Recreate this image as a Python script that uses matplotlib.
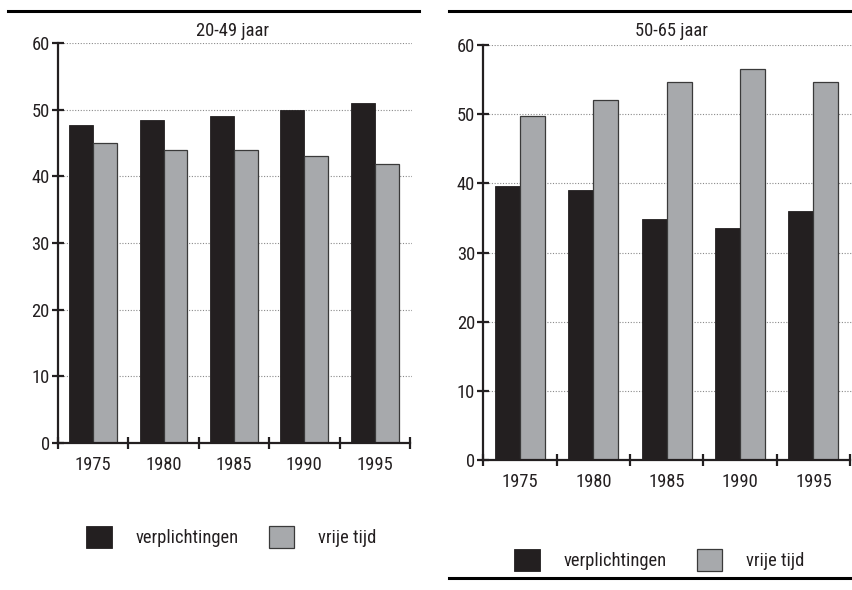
import matplotlib
matplotlib.use('Agg')
import matplotlib.pyplot as plt
import numpy as np
from matplotlib.lines import Line2D
from matplotlib.patches import Patch

plt.rcParams['font.family'] = ['Roboto Condensed', 'Liberation Sans', 'DejaVu Sans']
plt.rcParams['font.size'] = 13.3

years = ['1975', '1980', '1985', '1990', '1995']
legend_labels = ['verplichtingen', 'vrije tijd']

# 20-49 jaar
young_duties = [47.7, 48.5, 49.0, 50.0, 51.0]
young_free = [45.0, 44.0, 44.0, 43.0, 41.8]

# 50-65 jaar
old_duties = [39.6, 39.0, 34.9, 33.5, 36.0]
old_free = [49.8, 52.1, 54.7, 56.6, 54.7]

BLACK = '#231f20'
GREY = '#a7a9ac'
TXT = '#231f20'
FS = 13.3

fig = plt.figure(figsize=(8.53, 5.90), dpi=100)


def draw_panel(rect, duties, free, title, xmax, title_xy, leg_xy):
    ax = fig.add_axes(rect)
    x = np.arange(len(years))
    w = 0.34
    ax.bar(x - w, duties, width=w, align='edge', color=BLACK,
           edgecolor=BLACK, linewidth=0.6, zorder=3)
    ax.bar(x, free, width=w, align='edge', color=GREY,
           edgecolor='#3a3a3a', linewidth=0.9, zorder=3)

    ax.set_xlim(-0.5, xmax)
    ax.set_ylim(0, 60)
    for s in ['top', 'right']:
        ax.spines[s].set_visible(False)
    for s in ['left', 'bottom']:
        ax.spines[s].set_linewidth(1.6)
        ax.spines[s].set_color(BLACK)
        ax.spines[s].set_zorder(4)
    ax.spines['bottom'].set_bounds(-0.5, 4.5)

    ax.set_yticks(np.arange(0, 61, 10))
    ax.tick_params(axis='y', direction='inout', length=8, width=1.6,
                   color=BLACK, labelcolor=TXT, pad=2, labelsize=FS)
    # boundaries between groups get the tick marks, centres get the labels
    ax.set_xticks(np.arange(-0.5, 5, 1.0))
    ax.set_xticklabels([])
    ax.tick_params(axis='x', which='major', direction='inout', length=8,
                   width=1.6, color=BLACK)
    ax.set_xticks(x, minor=True)
    ax.set_xticklabels(years, minor=True)
    ax.tick_params(axis='x', which='minor', length=0, pad=9,
                   labelcolor=TXT, labelsize=FS)

    ax.yaxis.grid(True, linestyle=(0, (1, 1.5)), color='#8a8a8a',
                  linewidth=0.8, zorder=0)
    ax.set_axisbelow(True)

    fig.text(title_xy[0], title_xy[1], title, ha='center', va='center',
             fontsize=FS, color=TXT)

    handles = [Patch(facecolor=BLACK, edgecolor=BLACK, linewidth=0.6),
               Patch(facecolor=GREY, edgecolor='#3a3a3a', linewidth=0.9)]
    fig.legend(handles, legend_labels, loc='center left',
               bbox_to_anchor=leg_xy, bbox_transform=fig.transFigure,
               ncol=2, frameon=False, borderpad=0, borderaxespad=0,
               handlelength=1.4, handleheight=1.4, handletextpad=1.3,
               columnspacing=1.6, fontsize=FS, labelcolor=TXT)
    return ax


draw_panel([58 / 853, 147 / 590, 354 / 853, 400 / 590],
           young_duties, young_free, '20-49 jaar', 4.53,
           (233 / 853, (590 - 31) / 590), (86 / 853, (590 - 537) / 590))
draw_panel([483.3 / 853, 129.7 / 590, 369.7 / 853, 415.3 / 590],
           old_duties, old_free, '50-65 jaar', 4.54,
           (671 / 853, (590 - 31) / 590), (514 / 853, (590 - 560) / 590))

# horizontal rules framing the two panels
for x0, x1, y in [(8, 419, 11), (449, 853, 11), (449, 853, 578)]:
    fig.add_artist(Line2D([x0 / 853, x1 / 853], [1 - y / 590, 1 - y / 590],
                          transform=fig.transFigure, color='black',
                          linewidth=2.2))

fig.savefig('out.png', dpi=100)
